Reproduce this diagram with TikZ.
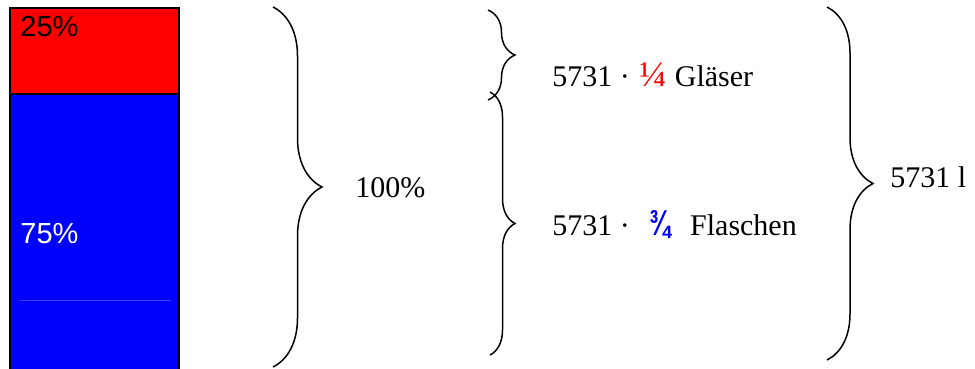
\documentclass[tikz,border=0pt]{standalone}
\usepackage{fontspec}
\setmainfont{Liberation Serif}
\setsansfont{Liberation Sans}
\usetikzlibrary{decorations.pathreplacing}
\tikzset{
  lbl/.style={inner sep=0pt, anchor=base west, font=\fontsize{15}{18}\selectfont},
  pct/.style={inner sep=0pt, anchor=base west, font=\sffamily\fontsize{14.5}{17}\selectfont},
  klammer/.style={decorate, decoration={brace, amplitude=#1}, line width=0.75pt},
}
\newcommand{\viertel}{\textcolor{red}{\fontsize{18}{18}\selectfont ¼}}
\newcommand{\dreiviertel}{\textcolor{blue}{\sffamily\bfseries\fontsize{15}{18}\selectfont\raisebox{-0.2pt}{\scalebox{0.85}[1.2]{¾}}}}
\begin{document}
\begin{tikzpicture}[x=0.5pt, y=-0.5pt]
        \useasboundingbox (0,0) rectangle (975,369);

        % Balken
        \fill[blue] (10,94) rectangle (179,372);
        \fill[red] (10,8) rectangle (179,94);
        \draw[line width=1pt] (10,372) -- (10,8) -- (179,8) -- (179,372);
        \draw[line width=1pt] (10,94) -- (179,94);
        \draw[blue!75!white, line width=0.3pt] (20,300) -- (170,300);
        \node[pct] (p25) at (20,37) {25\%};
        \node[pct, white] (p75) at (20,243) {75\%};

        % Klammern
        \coordinate (k1o) at (273,7);
        \coordinate (k1u) at (273,367);
        \coordinate (k2o) at (488,10);
        \coordinate (k2u) at (488,100);
        \coordinate (k3o) at (490,92);
        \coordinate (k3u) at (490,355);
        \coordinate (k4o) at (827,7);
        \coordinate (k4u) at (827,360);
        \draw[klammer=24.5pt] (k1o) -- (k1u);
        \draw[klammer=13.5pt] (k2o) -- (k2u);
        \draw[klammer=12.5pt] (k3o) -- (k3u);
        \draw[klammer=23pt] (k4o) -- (k4u);

        \node[lbl] (ganz) at (355,198) {100\%};
        \node[lbl] (glaeser) at (552,87) {5731 ·\hspace{1pt} \viertel\hspace{0.5pt} Gläser};
        \node[lbl] (flaschen) at (552,235) {5731 ·\hspace{6pt} \dreiviertel\hspace{6pt} Flaschen};
        \node[lbl] (liter) at (890,188) {5731 l};
        % \draw[magenta] (k4o) -- (k4u);
    \end{tikzpicture}
\end{document}
